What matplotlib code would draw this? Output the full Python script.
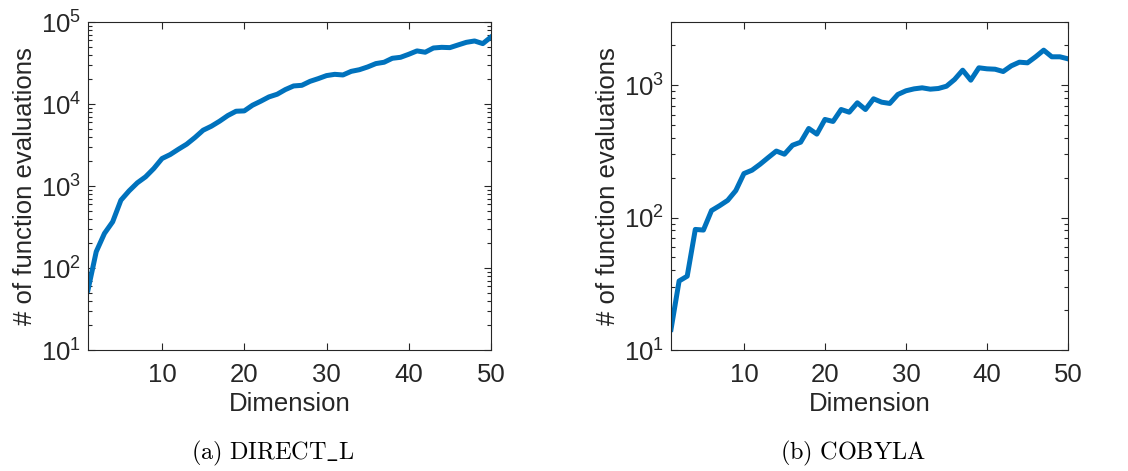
import numpy as np
import matplotlib
matplotlib.use("Agg")
import matplotlib.pyplot as plt
from matplotlib.ticker import FixedLocator, FuncFormatter, LogLocator, NullFormatter

# data
dims = list(range(1, 51))
direct_l = [54, 158, 264, 366, 671, 873, 1094, 1294, 1634, 2162,
            2420, 2810, 3236, 3900, 4790, 5360, 6170, 7230, 8160, 8240,
            9660, 10810, 12200, 13150, 15000, 16600, 16900, 18900, 20400, 22200,
            23000, 22600, 25000, 26200, 28300, 31100, 32300, 36100, 37100, 40400,
            44400, 42800, 48200, 49100, 48700, 52500, 56500, 58700, 54500, 65600]
cobyla = [14.3, 33.2, 36.1, 81.4, 80.5, 113, 123, 135, 160, 215,
          228, 253, 284, 318, 301, 352, 371, 471, 427, 551,
          532, 655, 625, 736, 655, 789, 744, 728, 851, 907,
          938, 955, 933, 944, 982, 1104, 1298, 1091, 1353, 1329,
          1320, 1268, 1400, 1492, 1475, 1638, 1838, 1638, 1638, 1581]
x_ticks = [10, 20, 30, 40, 50]
captions = [r"$\mathrm{(a)\ DIRECT\_L}$", r"$\mathrm{(b)\ COBYLA}$"]

plt.rcParams["font.family"] = ["Liberation Sans", "DejaVu Sans"]
plt.rcParams["mathtext.fontset"] = "custom"
plt.rcParams["mathtext.rm"] = "Liberation Sans"
plt.rcParams["mathtext.it"] = "Liberation Sans:italic"

line_color = "#0072BD"
axis_color = "#262626"

fig = plt.figure(figsize=(11.28, 4.71), dpi=100)
ax1 = fig.add_axes([88 / 1128, 121 / 471, 403 / 1128, 328 / 471])
ax2 = fig.add_axes([671 / 1128, 121 / 471, 397 / 1128, 328 / 471])


def pow_fmt(v, pos):
    return r"$10^{%d}$" % int(round(np.log10(v)))


def style(ax, yticks):
    ax.set_yscale("log")
    ax.set_xlim(1, 50)
    ax.xaxis.set_major_locator(FixedLocator(x_ticks))
    ax.yaxis.set_major_locator(FixedLocator(yticks))
    ax.yaxis.set_major_formatter(FuncFormatter(pow_fmt))
    ax.yaxis.set_minor_locator(LogLocator(base=10, subs=np.arange(2, 10)))
    ax.yaxis.set_minor_formatter(NullFormatter())
    ax.tick_params(which="both", direction="in", top=True, right=True,
                   colors=axis_color, labelsize=18.5, width=0.8)
    ax.tick_params(which="major", length=5)
    ax.tick_params(which="minor", length=3)
    ax.tick_params(axis="x", pad=9)
    ax.tick_params(axis="y", pad=5)
    for s in ax.spines.values():
        s.set_color(axis_color)
        s.set_linewidth(0.8)
    ax.set_xlabel("Dimension", fontsize=18.5, color=axis_color, labelpad=4)
    ax.set_ylabel("# of function evaluations", fontsize=18.5, color=axis_color,
                  labelpad=3)


ax1.plot(dims, direct_l, color=line_color, linewidth=3.6)
style(ax1, [10, 100, 1000, 10000, 100000])
ax1.set_ylim(10, 100000)

ax2.plot(dims, cobyla, color=line_color, linewidth=3.6)
style(ax2, [10, 100, 1000])
ax2.set_ylim(10, 3000)

fig.text(273 / 1128, 1 - 453 / 471, captions[0], fontsize=17.5, ha="center", va="center",
         math_fontfamily="cm")
fig.text(853 / 1128, 1 - 453 / 471, captions[1], fontsize=17.5, ha="center", va="center",
         math_fontfamily="cm")

fig.savefig("out.png", dpi=100)
